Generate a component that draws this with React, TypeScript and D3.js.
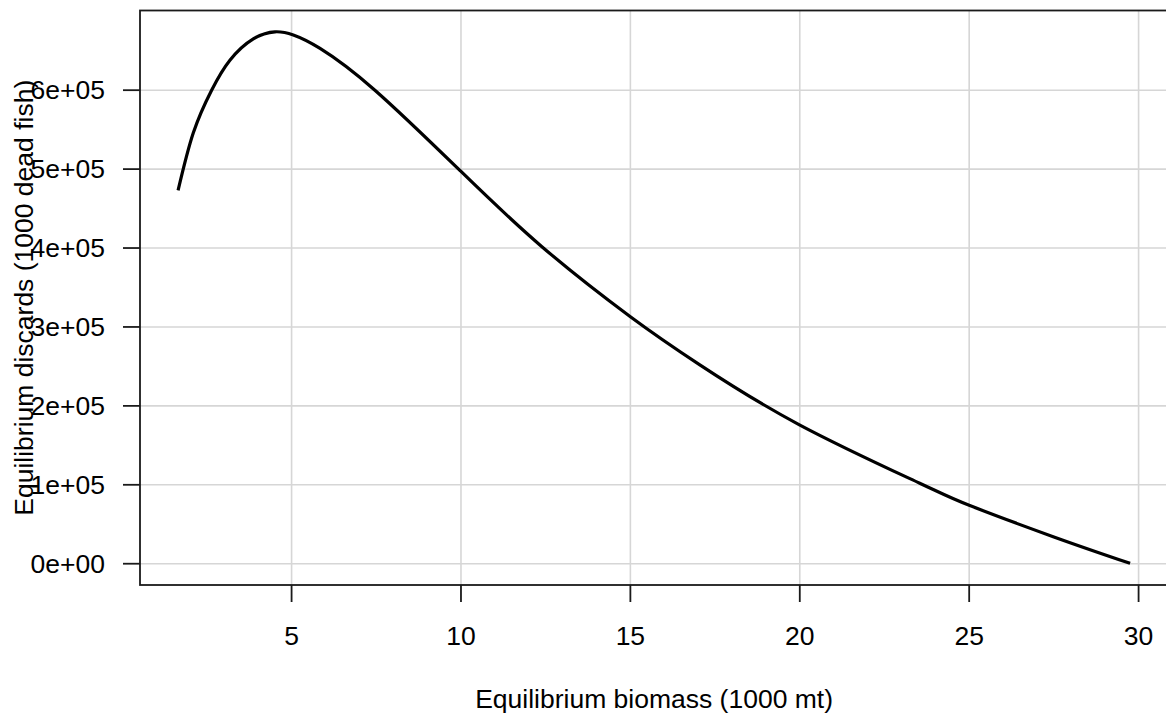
import React from "react";
import * as d3 from "d3";

// Equilibrium biomass (1000 mt)
const biomass = [1.65, 2.1, 2.64, 3.18, 3.87, 4.51, 5.05, 5.84, 7.46, 10.0, 12.38, 15.0, 17.05, 19.99, 23.54, 25.0, 27.5, 29.75];
// Equilibrium discards (1000 dead fish)
const discards = [473000, 546000, 600000, 638000, 665000, 674000, 670000, 653000, 600000, 497000, 402000, 313000, 252000, 176000, 102000, 74000, 34000, 500];

const xTicks = [5, 10, 15, 20, 25, 30];
const yTicks = [0, 100000, 200000, 300000, 400000, 500000, 600000];
const xTitle = "Equilibrium biomass (1000 mt)";
const yTitle = "Equilibrium discards (1000 dead fish)";

const W = 1166;
const H = 719;
const L = 140, T = 10.5, B = 585;
const FONT = "'Liberation Sans', Arial, Helvetica, sans-serif";
const FS = 26.5;

function fmtY(v: number) {
  if (v === 0) return "0e+00";
  const e = Math.floor(Math.log10(v));
  const m = Math.round(v / Math.pow(10, e));
  return `${m}e+${String(e).padStart(2, "0")}`;
}

export default function App() {
  const xmin = d3.min(biomass)!, xmax = d3.max(biomass)!;
  const ymin = 0, ymax = d3.max(discards)!;
  const xp = (xmax - xmin) * 0.04, yp = (ymax - ymin) * 0.04;
  const x = d3.scaleLinear().domain([xmin - xp, xmax + xp]).range([L, L + (xmax - xmin + 2 * xp) * 33.88]);
  const y = d3.scaleLinear().domain([ymin - yp, ymax + yp]).range([B, T]);
  const R = x.range()[1];
  const pts = biomass.map((b, i) => [b, discards[i]] as [number, number]);
  const line = d3.line<[number, number]>().x(d => x(d[0])).y(d => y(d[1])).curve(d3.curveNatural);
  const cy = (T + B) / 2;
  return (
    <svg width={W} height={H} style={{ position: "fixed", left: 0, top: 0, background: "#fff" }} fontFamily={FONT}>
      <rect x={0} y={0} width={W} height={H} fill="#fff" />
      {xTicks.map(t => (
        <line key={"gx" + t} x1={x(t)} x2={x(t)} y1={T} y2={B} stroke="#d6d6d6" strokeWidth={1.6} />
      ))}
      {yTicks.map(t => (
        <line key={"gy" + t} x1={L} x2={R} y1={y(t)} y2={y(t)} stroke="#d6d6d6" strokeWidth={1.6} />
      ))}
      <path d={line(pts) || ""} fill="none" stroke="#000" strokeWidth={3.2} strokeLinejoin="round" strokeLinecap="butt" />
      <rect x={L} y={T} width={R - L} height={B - T} fill="none" stroke="#1a1a1a" strokeWidth={1.8} />
      {xTicks.map(t => (
        <g key={"tx" + t}>
          <line x1={x(t)} x2={x(t)} y1={B} y2={B + 17} stroke="#1a1a1a" strokeWidth={1.8} />
          <text x={x(t)} y={645} textAnchor="middle" fontSize={FS} fill="#000">{t}</text>
        </g>
      ))}
      {yTicks.map(t => (
        <g key={"ty" + t}>
          <line x1={L - 17} x2={L} y1={y(t)} y2={y(t)} stroke="#1a1a1a" strokeWidth={1.8} />
          <text x={105} y={y(t)} dy="0.35em" textAnchor="end" fontSize={FS} fill="#000">{fmtY(t)}</text>
        </g>
      ))}
      <text x={(L + R) / 2} y={708} textAnchor="middle" fontSize={FS} fill="#000">{xTitle}</text>
      <text transform={`translate(33,${cy}) rotate(-90)`} textAnchor="middle" fontSize={FS} fill="#000">{yTitle}</text>
    </svg>
  );
}
